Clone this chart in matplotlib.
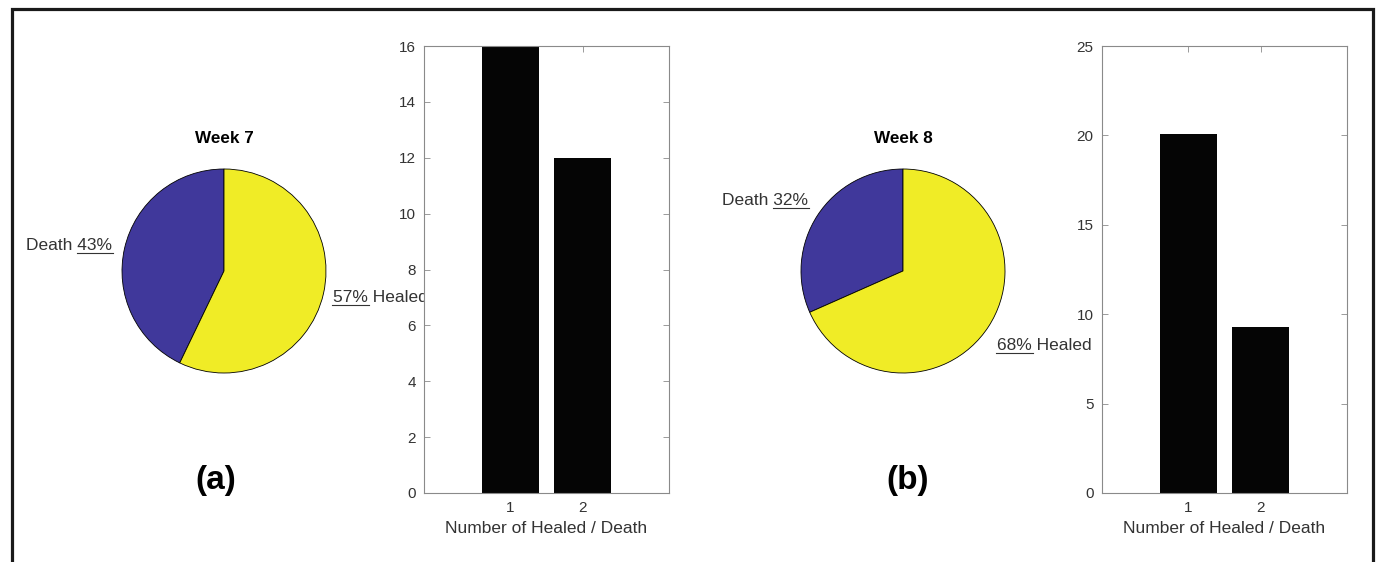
import matplotlib
matplotlib.use("Agg")
import matplotlib.pyplot as plt
from matplotlib.lines import Line2D

plt.rcParams["font.family"] = ["Liberation Sans", "DejaVu Sans"]

# ---- data ----
weeks = ["Week 7", "Week 8"]
panel_tags = ["(a)", "(b)"]
pie_labels = ["Death", "Healed"]
bar_categories = [1, 2]
week7_counts = [16, 12]          # healed, death
week8_counts = [20.1, 9.3]       # healed, death
week7_yticks = [0, 2, 4, 6, 8, 10, 12, 14, 16]
week8_yticks = [0, 5, 10, 15, 20, 25]

BLUE = "#40389b"
YELLOW = "#f0ec26"
AXCOL = "#8a8a8a"
TXT = "#333333"

W, H = 1387, 562
DPI = 100
fig = plt.figure(figsize=(W / DPI, H / DPI), dpi=DPI)
fig.patch.set_facecolor("white")


def px_axes(left, top, width, height):
    return fig.add_axes([left / W, 1 - (top + height) / H, width / W, height / H])


def draw_pie(cx, cy, r, counts, title, death_pos, healed_pos):
    ax = px_axes(cx - r, cy - r, 2 * r, 2 * r)
    healed, death = counts
    total = healed + death
    ax.pie([death, healed], colors=[BLUE, YELLOW], startangle=90,
           counterclock=True, radius=1.0,
           wedgeprops=dict(edgecolor="black", linewidth=0.6))
    ax.set_xlim(-1, 1)
    ax.set_ylim(-1, 1)
    ax.set_aspect("auto")
    ax.axis("off")
    d_pct = f"{round(100 * death / total)}%"
    h_pct = f"{round(100 * healed / total)}%"
    ax.text(0, 1.30, title, ha="center", va="center", fontsize=12.3,
            fontweight="bold", color="black", clip_on=False)
    t_death = ax.text(death_pos[0], death_pos[1], f"{pie_labels[0]} {d_pct}",
                      ha="right", va="baseline", fontsize=12.5, color=TXT, clip_on=False)
    t_heal = ax.text(healed_pos[0], healed_pos[1], f"{h_pct} {pie_labels[1]}",
                     ha="left", va="baseline", fontsize=12.5, color=TXT, clip_on=False)
    return ax, t_death, t_heal, d_pct, h_pct


def draw_bars(left, counts, yticks):
    ax = px_axes(left, 46, 245, 447)
    ax.bar(bar_categories, counts, width=0.8, color="#050505", zorder=2)
    ax.set_xlim(-0.2, 3.2)
    ax.set_ylim(yticks[0], yticks[-1])
    ax.set_xticks(bar_categories)
    ax.set_yticks(yticks)
    ax.set_facecolor("white")
    for s in ax.spines.values():
        s.set_color(AXCOL)
        s.set_linewidth(0.8)
    ax.tick_params(direction="in", length=4, width=0.6, color=AXCOL,
                   top=True, right=True, labelsize=11, labelcolor=TXT, pad=6)
    ax.set_xlabel("Number of Healed / Death", fontsize=12.5, color=TXT, labelpad=4)
    return ax


pie1 = draw_pie(224, 271, 102, week7_counts, weeks[0], (-1.098, 0.205), (1.069, -0.305))
bar1 = draw_bars(424, week7_counts, week7_yticks)
pie2 = draw_pie(903, 271, 102, week8_counts, weeks[1], (-0.93, 0.647), (0.92, -0.77))
bar2 = draw_bars(1102, week8_counts, week8_yticks)

for tag, x in zip(panel_tags, [216, 908]):
    fig.text(x / W, 1 - 481 / H, tag, ha="center", va="center",
             fontsize=24, fontweight="bold", color="black")

# underline the percentage part of each pie label
fig.canvas.draw()
renderer = fig.canvas.get_renderer()
for ax, t_death, t_heal, d_pct, h_pct in (pie1, pie2):
    for t, pct, side in ((t_death, d_pct, "right"), (t_heal, h_pct, "left")):
        bb = t.get_window_extent(renderer)
        probe = fig.text(0, 0, pct, fontsize=12.5)
        pw = probe.get_window_extent(renderer).width
        probe.remove()
        _, y_disp = ax.transData.transform(t.get_position())
        if side == "right":
            xs = [bb.x1 - pw, bb.x1 + 1]
        else:
            xs = [bb.x0 - 1, bb.x0 + pw + 1]
        yl = y_disp - 3
        fig.add_artist(Line2D([x / W for x in xs], [yl / H, yl / H],
                              transform=fig.transFigure, color=TXT,
                              linewidth=0.8, zorder=0))

# bar panels sit above the pie label text
bar1.set_zorder(5)
bar2.set_zorder(5)

# outer frame (top, left, right)
fl, fr, ft = 11.5, 1372.5, 8.5
frame = Line2D([fl / W, fl / W, fr / W, fr / W], [0, 1 - ft / H, 1 - ft / H, 0],
               transform=fig.transFigure, color="#1a1a1a", linewidth=2.3,
               solid_joinstyle="miter")
fig.add_artist(frame)

fig.savefig("out.png", dpi=DPI, facecolor="white")
